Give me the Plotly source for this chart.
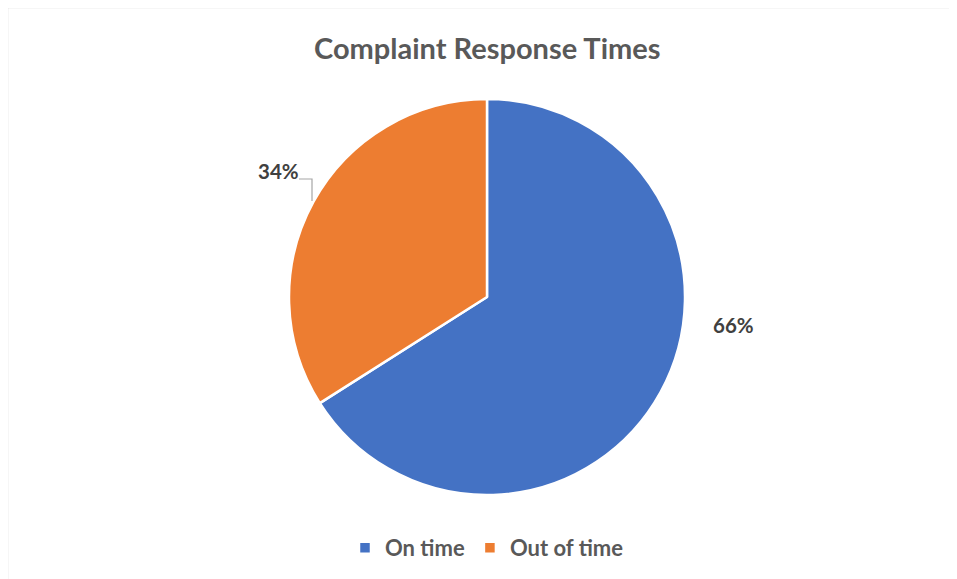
import plotly.graph_objects as go

labels = ["On time", "Out of time"]
values = [66, 34]
colors = ["#4472C4", "#ED7D31"]
title_text = "Complaint Response Times"

W, H = 957, 579
OFF = 8  # page body margin offset
cx, cy, r = 487, 297, 198

def px(x):
    return (x - OFF) / W

def py(y):
    return 1 - (y - OFF) / H

total = sum(values)
pcts = [f"{round(v * 100 / total)}%" for v in values]

fig = go.Figure(go.Pie(
    labels=labels, values=values, sort=False, direction="clockwise", rotation=0,
    marker=dict(colors=colors, line=dict(color="white", width=2.5)),
    textinfo="none", hoverinfo="label+percent",
    domain=dict(x=[px(cx - r), px(cx + r)], y=[py(cy + r), py(cy - r)]),
))

fig.update_layout(
    width=W, height=H,
    margin=dict(l=0, r=0, t=0, b=0),
    paper_bgcolor="white",
    font=dict(family="Lato, sans-serif", color="#595959"),
    showlegend=True,
    legend=dict(orientation="h", x=px(487), xanchor="center", y=py(548), yanchor="middle",
                font=dict(size=22, color="#595959", family="Lato, sans-serif", weight="bold"),
                itemwidth=30, traceorder="normal"),
    annotations=[
        dict(text=f"<b>{title_text}</b>", x=px(488), y=py(48), xref="paper", yref="paper",
             xanchor="center", yanchor="middle",
             showarrow=False, font=dict(size=29, color="#595959", family="Lato, sans-serif")),
        dict(text=f"<b>{pcts[1]}</b>", x=px(278), y=py(171), xref="paper", yref="paper",
             xanchor="center", yanchor="middle",
             showarrow=False, font=dict(size=20.5, color="#404040", family="Lato, sans-serif")),
        dict(text=f"<b>{pcts[0]}</b>", x=px(733), y=py(325), xref="paper", yref="paper",
             xanchor="center", yanchor="middle",
             showarrow=False, font=dict(size=20.5, color="#404040", family="Lato, sans-serif")),
    ],
    shapes=[
        dict(type="rect", xref="paper", yref="paper", x0=px(7.5), x1=1.2, y0=-0.2, y1=py(7.5),
             line=dict(color="#d9d9d9", width=1.5), layer="below"),
        dict(type="path", xref="paper", yref="paper",
             path=f"M {px(299)} {py(179)} L {px(312)} {py(179)} L {px(312)} {py(201)}",
             line=dict(color="#a6a6a6", width=1.2)),
    ],
)

fig.write_html("out.html")
